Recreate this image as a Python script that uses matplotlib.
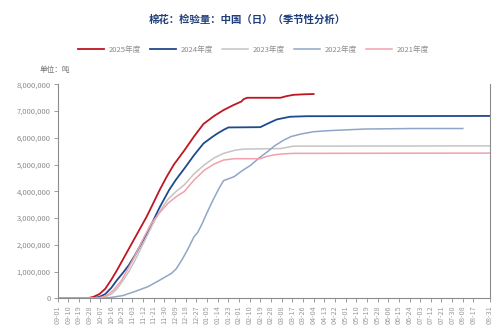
import matplotlib
matplotlib.use('Agg')
import matplotlib.pyplot as plt
from matplotlib.ticker import FuncFormatter

plt.rcParams['font.family'] = ['Noto Sans CJK SC', 'DejaVu Sans']

# 季节性数据：横轴为自 09-01 起的天数，纵轴为累计检验量（吨）
day_2025 = [0, 25, 30, 35, 40, 45, 50, 55, 60, 65, 70, 75, 80, 86, 92, 98, 107, 115,
            123, 132, 140, 148, 155, 157, 160, 188, 193, 199, 208, 216]
val_2025 = [0, 0, 0.05e6, 0.15e6, 0.35e6, 0.68e6, 1.05e6, 1.45e6, 1.85e6, 2.25e6,
            2.65e6, 3.05e6, 3.5e6, 4.05e6, 4.55e6, 5.0e6, 5.54e6, 6.05e6, 6.52e6,
            6.82e6, 7.04e6, 7.22e6, 7.36e6, 7.45e6, 7.5e6, 7.5e6, 7.56e6, 7.61e6,
            7.63e6, 7.64e6]

day_2024 = [0, 30, 35, 40, 45, 50, 55, 60, 62, 65, 70, 75, 80, 86, 94, 100, 107, 115,
            123, 130, 135, 140, 144, 171, 178, 185, 196, 210, 365]
val_2024 = [0, 0, 0.05e6, 0.15e6, 0.38e6, 0.68e6, 0.95e6, 1.24e6, 1.38e6, 1.6e6,
            2.0e6, 2.4e6, 2.85e6, 3.4e6, 4.05e6, 4.45e6, 4.86e6, 5.35e6, 5.79e6,
            6.02e6, 6.17e6, 6.3e6, 6.39e6, 6.4e6, 6.55e6, 6.69e6, 6.79e6, 6.81e6, 6.82e6]

day_2023 = [0, 35, 40, 45, 50, 55, 60, 65, 70, 75, 80, 86, 93, 100, 107, 115, 124,
            132, 140, 150, 157, 188, 199, 365]
val_2023 = [0, 0, 0.05e6, 0.15e6, 0.35e6, 0.66e6, 1.0e6, 1.4e6, 1.85e6, 2.3e6,
            2.75e6, 3.25e6, 3.7e6, 4.0e6, 4.25e6, 4.65e6, 5.0e6, 5.25e6, 5.42e6,
            5.54e6, 5.58e6, 5.6e6, 5.69e6, 5.7e6]

day_2022 = [0, 38, 45, 55, 65, 76, 85, 96, 100, 105, 110, 115, 118, 122, 126, 131,
            136, 140, 149, 155, 163, 170, 177, 183, 191, 197, 205, 216, 229, 259,
            300, 342]
val_2022 = [0, 0, 0.03e6, 0.1e6, 0.25e6, 0.43e6, 0.65e6, 0.93e6, 1.1e6, 1.45e6,
            1.85e6, 2.3e6, 2.45e6, 2.8e6, 3.2e6, 3.67e6, 4.1e6, 4.4e6, 4.55e6,
            4.75e6, 4.98e6, 5.25e6, 5.48e6, 5.7e6, 5.92e6, 6.05e6, 6.14e6, 6.23e6,
            6.27e6, 6.33e6, 6.35e6, 6.35e6]

day_2021 = [0, 33, 38, 43, 48, 54, 58, 63, 68, 73, 79, 86, 93, 100, 107, 115, 124,
            132, 140, 149, 171, 176, 182, 190, 199, 365]
val_2021 = [0, 0, 0.05e6, 0.15e6, 0.35e6, 0.68e6, 1.0e6, 1.4e6, 1.85e6, 2.3e6,
            2.8e6, 3.2e6, 3.55e6, 3.8e6, 4.0e6, 4.42e6, 4.8e6, 5.02e6, 5.17e6,
            5.22e6, 5.22e6, 5.3e6, 5.36e6, 5.4e6, 5.42e6, 5.43e6]

tick_pos = [0, 9, 18, 27, 36, 45, 54, 63, 72, 81, 90, 99, 108, 117, 126, 135, 144,
            153, 162, 171, 180, 189, 198, 207, 216, 225, 234, 243, 252, 261, 270,
            279, 288, 297, 306, 315, 324, 333, 342, 351, 365]
tick_labels = ['09-01', '09-10', '09-19', '09-28', '10-07', '10-16', '10-25', '11-03',
               '11-12', '11-21', '11-30', '12-09', '12-18', '12-27', '01-05', '01-14',
               '01-23', '02-01', '02-10', '02-19', '02-28', '03-08', '03-17', '03-26',
               '04-04', '04-13', '04-22', '05-01', '05-10', '05-19', '05-28', '06-06',
               '06-15', '06-24', '07-03', '07-12', '07-21', '07-30', '08-08', '08-17',
               '08-31']

series = [
    ('2025年度', day_2025, val_2025, '#C0161F', 1.3),
    ('2024年度', day_2024, val_2024, '#1F4A8C', 1.3),
    ('2023年度', day_2023, val_2023, '#C4C4C4', 1.1),
    ('2022年度', day_2022, val_2022, '#8FA6C8', 1.1),
    ('2021年度', day_2021, val_2021, '#F2A0AC', 1.1),
]

fig = plt.figure(figsize=(4.94, 3.31), dpi=100)
ax = fig.add_axes([0.117, 0.099, 0.875, 0.646])

for name, d, v, c, lw in series:
    ax.plot(d, v, color=c, linewidth=lw, label=name)

ax.set_xlim(0, 365)
ax.set_ylim(0, 8e6)
ax.set_yticks([i * 1e6 for i in range(9)])
ax.yaxis.set_major_formatter(FuncFormatter(lambda y, p: f'{int(y):,}'))
ax.set_xticks(tick_pos)
ax.set_xticklabels(tick_labels, rotation=90)

gray = '#8C8C8C'
for side in ['left', 'bottom', 'right']:
    ax.spines[side].set_color(gray)
    ax.spines[side].set_linewidth(0.8)
ax.spines['top'].set_visible(False)
ax.tick_params(axis='both', colors=gray, labelsize=5.5, length=3, width=0.6, pad=2)
ax.tick_params(axis='x', labelcolor='#9A9A9A', labelsize=5.2)

fig.text(0.5, 0.94, '棉花：检验量：中国（日）（季节性分析）', ha='center', va='center',
         fontsize=7.5, fontweight='bold', color='#1F3F7A')
fig.text(0.08, 0.79, '单位：吨', ha='left', va='center', fontsize=5.5, color='#707070')

fig.legend(loc='center', bbox_to_anchor=(0.513, 0.85), ncol=5, frameon=False,
           fontsize=5.5, handlelength=3.4, columnspacing=1.2, handletextpad=0.6,
           labelcolor='#8C8C8C')

fig.savefig('out.png', dpi=100, facecolor='white')
